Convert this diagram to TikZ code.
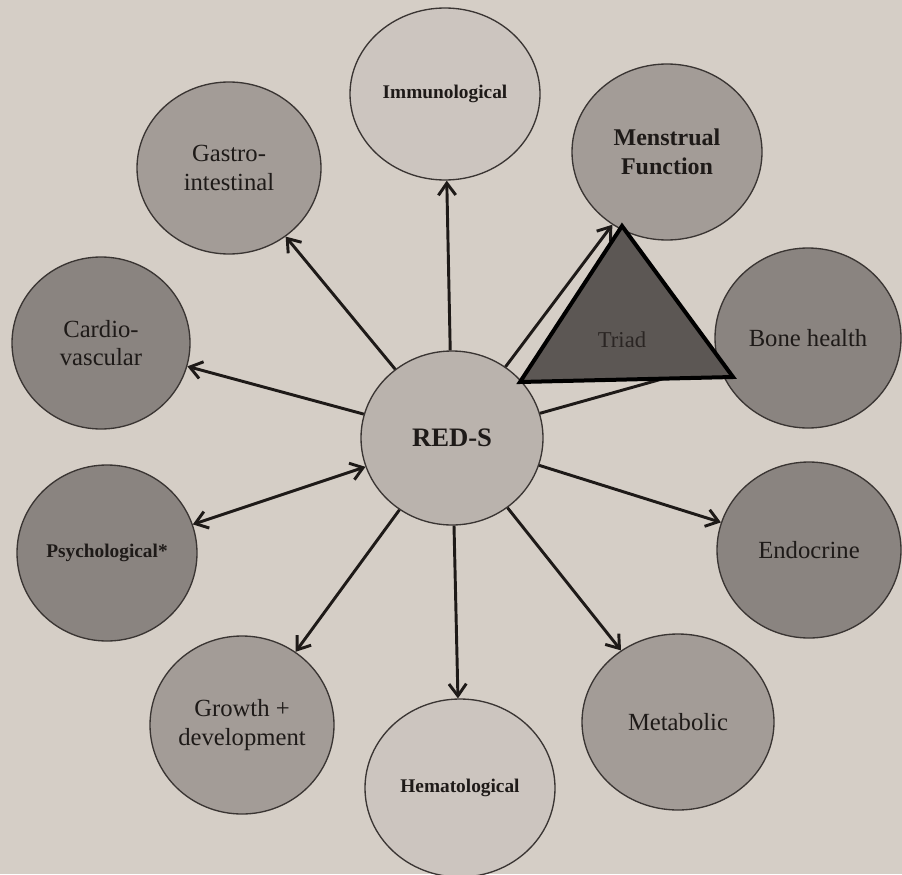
\documentclass[tikz,border=0pt]{standalone}
\usepackage{fontspec}
\setmainfont{Liberation Serif}
\usetikzlibrary{shapes.geometric,arrows.meta}

\definecolor{paper}{HTML}{D5CEC6}
\definecolor{edgecol}{HTML}{3A3533}
\definecolor{palefill}{HTML}{CCC5BF}
\definecolor{centrefill}{HTML}{BAB3AD}
\definecolor{midfill}{HTML}{A39C97}
\definecolor{darkfill}{HTML}{8A8480}
\definecolor{triadfill}{HTML}{5C5754}
\definecolor{inkcol}{HTML}{1E1A18}
\definecolor{triadink}{HTML}{2A2523}

\tikzset{
  organ/.style={ellipse, draw=edgecol, line width=1pt, inner sep=0pt,
    align=center, text=inkcol, font=\fontsize{18.5}{21.5}\selectfont},
  sz/.style 2 args={minimum width=#1*0.75pt, minimum height=#2*0.75pt},
  smallbold/.style={font=\fontsize{14.5}{17}\selectfont\bfseries},
  link/.style={line width=2.2pt, draw=inkcol},
  >={Straight Barb[length=9pt,width=13pt]}
}

\begin{document}
\begin{tikzpicture}[x=0.75pt,y=-0.75pt]
  % page
  \fill[paper] (0,0) rectangle (902,874);
  \useasboundingbox (0,0) rectangle (902,874);
  \clip (0,0) rectangle (902,874);

  % central condition
  \node[organ, sz={182}{174}, fill=centrefill,
        font=\fontsize{20}{22}\selectfont\bfseries] (reds) at (452,438) {RED-S};

  % surrounding systems
  \node[organ, sz={190}{172}, fill=palefill, smallbold] (immuno) at (445,94) {Immunological};
  \node[organ, sz={190}{176}, fill=midfill, font=\fontsize{18}{21.5}\selectfont\bfseries] (menstr) at (667,152) {Menstrual\\Function};
  \node[organ, sz={184}{172}, fill=midfill] (gastro) at (229,168) {Gastro-\\intestinal};
  \node[organ, sz={178}{172}, fill=darkfill] (cardio) at (101,343) {Cardio-\\vascular};
  \node[organ, sz={186}{180}, fill=darkfill] (bone) at (808,338) {Bone health};
  \node[organ, sz={180}{176}, fill=darkfill, smallbold] (psych) at (107,553) {Psychological*};
  \node[organ, sz={184}{176}, fill=darkfill] (endo) at (809,550) {Endocrine};
  \node[organ, sz={192}{176}, fill=midfill] (metab) at (678,722) {Metabolic};
  \node[organ, sz={184}{178}, fill=midfill] (growth) at (242,725) {Growth +\\development};
  \node[organ, sz={190}{178}, fill=palefill, smallbold] (hemat) at (460,788) {Hematological};

  % connectors
  \draw[link,->] (reds) -- (immuno);
  \draw[link,->] (reds) -- (gastro);
  \draw[link,->] (reds) -- (cardio);
  \draw[link,<->] (reds) -- (psych);
  \draw[link,->] (reds) -- (growth);
  \draw[link,->] (reds) -- (hemat);
  \draw[link,->] (reds) -- (metab);
  \draw[link,->] (reds) -- (endo);
  \draw[link,->] (reds) -- (bone);
  \draw[link,->] (reds) -- (menstr);

  % female athlete triad
  \coordinate (tA) at (622,226);
  \coordinate (tB) at (520,382);
  \coordinate (tC) at (733,377);
  \filldraw[fill=triadfill, draw=black, line width=3pt, line join=miter]
    (tA) -- (tB) -- (tC) -- cycle;
  \node[text=triadink, font=\fontsize{17}{20}\selectfont] (triad) at (622,340) {Triad};
\end{tikzpicture}
\end{document}
